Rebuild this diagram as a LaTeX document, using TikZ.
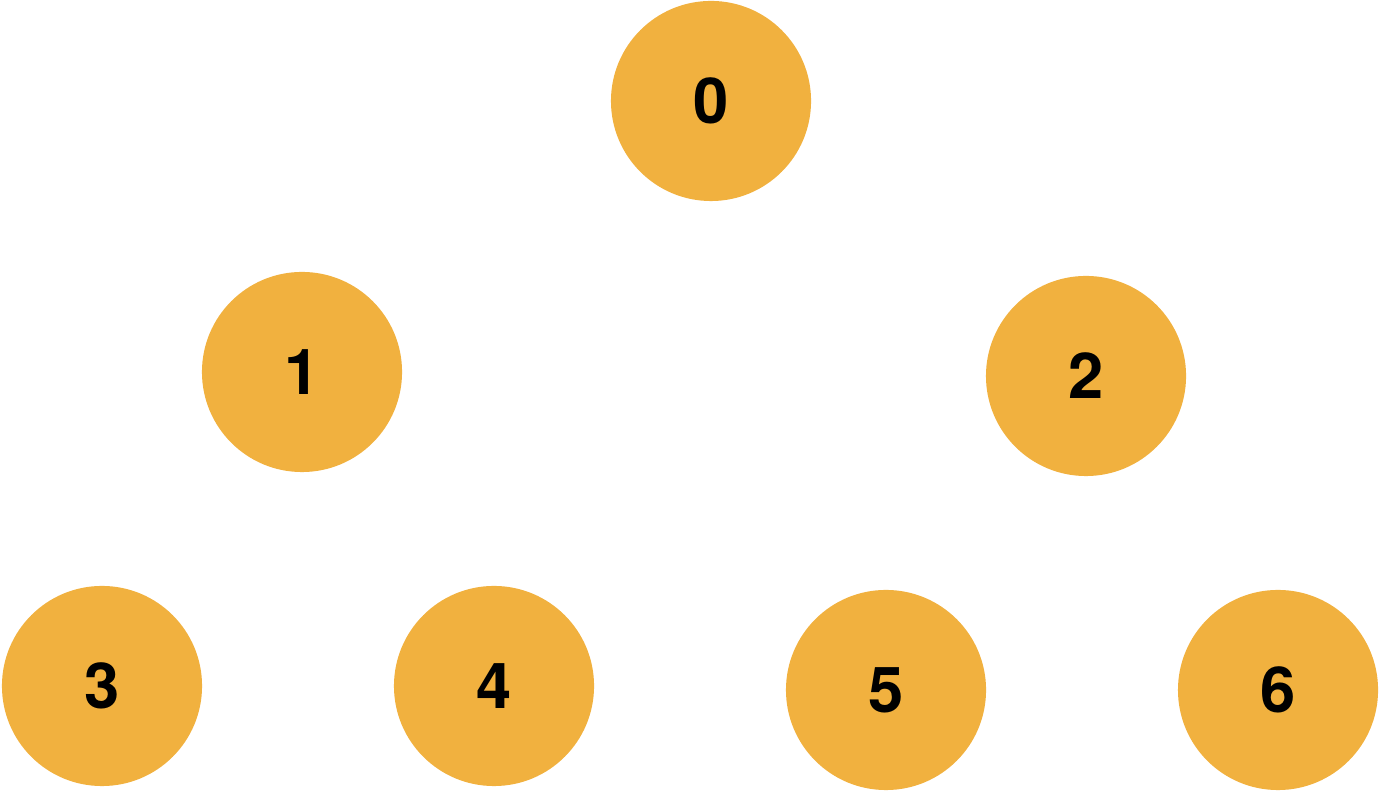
\documentclass[tikz,border=0pt]{standalone}
\usepackage{fontspec}
\setmainfont{TeX Gyre Heros}
\usepackage{xcolor}
\usetikzlibrary{positioning}
\definecolor{nodeorange}{HTML}{F1B13F}

\begin{document}
\begin{tikzpicture}[x=0.01cm, y=0.01cm,
    treenode/.style={circle, fill=nodeorange, minimum size=2cm, inner sep=0pt,
                     font=\fontsize{18}{20}\selectfont\bfseries}]
    % Canvas
    \useasboundingbox (0,0) rectangle (1380,792);

    % Tree nodes (level by level)
    \foreach \i/\x/\y in {0/711/691,
                          1/302/420, 2/1086/416,
                          3/102/106, 4/494/106, 5/886/102, 6/1278/102} {
        \node[treenode] (n\i) at (\x,\y) {\i};
    }
\end{tikzpicture}
\end{document}
